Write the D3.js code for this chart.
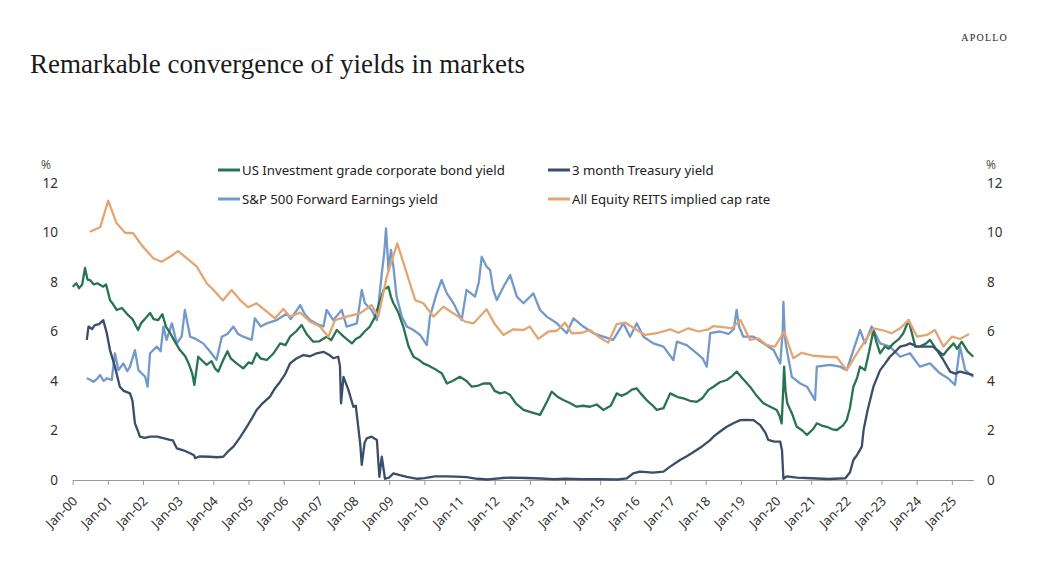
<!DOCTYPE html>
<html>
<head>
<meta charset="utf-8">
<script src="https://cdn.jsdelivr.net/npm/d3@7"></script>
<style>
  body { margin: 0; background: #fff; }
  svg { display: block; }
</style>
</head>
<body>
<div id="chart"></div>
<script>
// values: [decimal year, percent]
const igYield = [[2000.00,7.81],[2000.10,7.95],[2000.18,7.75],[2000.27,7.9],[2000.35,8.57],[2000.42,8.1],[2000.49,8.08],[2000.6,7.9],[2000.7,7.95],[2000.87,7.81],[2000.95,7.9],[2001.06,7.27],[2001.15,7.1],[2001.25,6.87],[2001.4,6.95],[2001.57,6.67],[2001.7,6.5],[2001.86,6.06],[2001.95,6.35],[2002.05,6.5],[2002.2,6.75],[2002.3,6.5],[2002.43,6.46],[2002.55,6.7],[2002.65,6.2],[2002.77,5.94],[2002.9,5.6],[2003.05,5.25],[2003.2,5.0],[2003.3,4.7],[2003.4,4.3],[2003.46,3.84],[2003.57,4.98],[2003.7,4.8],[2003.81,4.65],[2003.95,4.8],[2004.05,4.5],[2004.14,4.38],[2004.28,4.85],[2004.4,5.2],[2004.5,4.9],[2004.66,4.71],[2004.85,4.51],[2005.0,4.75],[2005.1,4.7],[2005.23,5.12],[2005.35,4.9],[2005.52,4.85],[2005.7,5.1],[2005.9,5.52],[2006.05,5.45],[2006.18,5.79],[2006.35,6.0],[2006.51,6.26],[2006.65,5.9],[2006.84,5.59],[2007.0,5.6],[2007.22,5.79],[2007.35,5.65],[2007.51,6.06],[2007.7,5.8],[2007.94,5.52],[2008.05,5.7],[2008.17,5.79],[2008.3,6.0],[2008.45,6.2],[2008.6,6.6],[2008.75,7.3],[2008.85,7.7],[2008.98,7.81],[2009.05,7.4],[2009.12,7.14],[2009.25,6.8],[2009.4,6.2],[2009.55,5.4],[2009.69,4.98],[2009.85,4.85],[2009.97,4.71],[2010.15,4.6],[2010.35,4.44],[2010.5,4.3],[2010.64,3.9],[2010.8,4.0],[2011.01,4.17],[2011.2,4.0],[2011.35,3.77],[2011.5,3.8],[2011.68,3.9],[2011.87,3.9],[2012.0,3.6],[2012.15,3.5],[2012.3,3.55],[2012.44,3.43],[2012.6,3.1],[2012.82,2.83],[2013.0,2.75],[2013.29,2.63],[2013.5,3.2],[2013.62,3.57],[2013.8,3.35],[2013.95,3.23],[2014.15,3.1],[2014.33,2.96],[2014.5,3.0],[2014.71,2.96],[2014.9,3.05],[2015.09,2.83],[2015.3,3.0],[2015.47,3.5],[2015.6,3.4],[2015.76,3.5],[2015.9,3.65],[2016.04,3.7],[2016.15,3.5],[2016.32,3.23],[2016.5,3.0],[2016.61,2.83],[2016.8,2.9],[2016.99,3.5],[2017.2,3.35],[2017.37,3.3],[2017.55,3.2],[2017.75,3.16],[2017.9,3.3],[2018.08,3.64],[2018.22,3.77],[2018.4,3.95],[2018.6,4.04],[2018.75,4.2],[2018.88,4.38],[2019.05,4.1],[2019.26,3.77],[2019.45,3.4],[2019.64,3.1],[2019.85,2.95],[2020.02,2.83],[2020.1,2.6],[2020.16,2.29],[2020.2,3.5],[2020.23,4.58],[2020.27,3.6],[2020.32,3.1],[2020.45,2.7],[2020.59,2.15],[2020.75,2.0],[2020.88,1.82],[2021.05,2.05],[2021.16,2.29],[2021.3,2.2],[2021.44,2.15],[2021.6,2.05],[2021.73,2.02],[2021.9,2.2],[2022.01,2.42],[2022.1,2.9],[2022.2,3.77],[2022.3,4.1],[2022.39,4.58],[2022.53,4.44],[2022.65,5.2],[2022.77,6.06],[2022.85,5.6],[2022.96,5.12],[2023.1,5.4],[2023.2,5.3],[2023.34,5.52],[2023.5,5.7],[2023.62,5.93],[2023.77,6.46],[2023.87,5.9],[2023.96,5.39],[2024.1,5.4],[2024.25,5.5],[2024.38,5.66],[2024.55,5.3],[2024.76,5.05],[2024.9,5.3],[2025.05,5.52],[2025.15,5.3],[2025.28,5.59],[2025.45,5.2],[2025.61,4.98]];

const tbillYield = [[2000.4,5.66],[2000.45,6.2],[2000.55,6.1],[2000.63,6.26],[2000.75,6.3],[2000.87,6.46],[2000.97,5.93],[2001.06,5.25],[2001.2,4.58],[2001.34,3.77],[2001.45,3.6],[2001.63,3.5],[2001.7,3.2],[2001.77,2.29],[2001.85,2.0],[2001.91,1.75],[2002.05,1.7],[2002.2,1.75],[2002.4,1.75],[2002.6,1.68],[2002.77,1.62],[2002.85,1.6],[2002.96,1.28],[2003.15,1.2],[2003.34,1.08],[2003.45,1.0],[2003.48,0.88],[2003.6,0.95],[2003.9,0.94],[2004.1,0.92],[2004.28,0.94],[2004.45,1.2],[2004.57,1.35],[2004.75,1.7],[2004.95,2.15],[2005.1,2.5],[2005.23,2.83],[2005.4,3.1],[2005.61,3.37],[2005.75,3.7],[2005.9,3.97],[2006.05,4.3],[2006.18,4.71],[2006.35,4.9],[2006.56,5.05],[2006.75,5.0],[2006.94,5.12],[2007.13,5.18],[2007.3,5.05],[2007.41,4.92],[2007.55,4.98],[2007.6,4.6],[2007.63,3.1],[2007.7,4.17],[2007.84,3.64],[2007.98,2.96],[2008.05,3.0],[2008.12,2.15],[2008.18,1.4],[2008.22,0.61],[2008.3,1.5],[2008.36,1.68],[2008.5,1.75],[2008.65,1.62],[2008.72,0.13],[2008.79,0.94],[2008.88,0.05],[2009.0,0.1],[2009.12,0.27],[2009.3,0.2],[2009.5,0.13],[2009.8,0.05],[2010.0,0.08],[2010.3,0.15],[2010.6,0.15],[2010.9,0.14],[2011.2,0.12],[2011.5,0.05],[2011.8,0.02],[2012.2,0.08],[2012.5,0.1],[2012.9,0.08],[2013.3,0.06],[2013.7,0.03],[2014.0,0.05],[2014.5,0.03],[2015.0,0.03],[2015.5,0.02],[2015.76,0.07],[2015.94,0.27],[2016.13,0.34],[2016.5,0.3],[2016.8,0.34],[2016.99,0.54],[2017.27,0.81],[2017.45,0.95],[2017.6,1.08],[2017.84,1.3],[2018.12,1.6],[2018.22,1.75],[2018.4,1.95],[2018.6,2.15],[2018.8,2.3],[2018.98,2.42],[2019.15,2.43],[2019.36,2.42],[2019.55,2.22],[2019.7,1.9],[2019.78,1.62],[2019.95,1.55],[2020.12,1.55],[2020.17,1.2],[2020.21,0.05],[2020.3,0.15],[2020.6,0.1],[2021.0,0.07],[2021.5,0.04],[2021.97,0.07],[2022.1,0.3],[2022.2,0.81],[2022.3,1.0],[2022.44,1.35],[2022.49,2.02],[2022.6,2.8],[2022.77,3.77],[2022.96,4.44],[2023.1,4.7],[2023.24,4.98],[2023.4,5.2],[2023.53,5.39],[2023.7,5.45],[2023.81,5.52],[2024.0,5.4],[2024.19,5.39],[2024.47,5.39],[2024.6,5.2],[2024.76,4.85],[2024.95,4.38],[2025.1,4.3],[2025.23,4.38],[2025.45,4.3],[2025.61,4.24]];

const spxEarningsYield = [[2000.4,4.11],[2000.5,4.05],[2000.59,3.97],[2000.7,4.1],[2000.78,4.24],[2000.88,4.0],[2000.97,4.11],[2001.11,4.04],[2001.2,5.12],[2001.3,4.44],[2001.44,4.71],[2001.55,4.4],[2001.63,4.58],[2001.77,5.25],[2001.87,4.44],[2002.06,4.17],[2002.13,3.77],[2002.2,5.12],[2002.39,5.39],[2002.5,5.2],[2002.58,6.2],[2002.67,5.66],[2002.82,6.33],[2002.96,5.52],[2003.1,5.8],[2003.19,6.87],[2003.34,5.79],[2003.5,5.7],[2003.71,5.52],[2003.9,5.2],[2004.09,4.85],[2004.24,5.79],[2004.4,5.9],[2004.57,6.2],[2004.7,5.9],[2004.85,5.79],[2005.09,5.66],[2005.18,6.53],[2005.35,6.2],[2005.52,6.33],[2005.8,6.46],[2006.09,6.73],[2006.2,6.5],[2006.47,7.07],[2006.6,6.7],[2006.75,6.46],[2006.95,6.3],[2007.13,6.2],[2007.22,6.87],[2007.41,6.46],[2007.65,6.87],[2007.79,6.2],[2008.08,6.33],[2008.22,7.68],[2008.31,7.14],[2008.5,6.87],[2008.65,6.46],[2008.79,8.35],[2008.86,9.2],[2008.91,10.17],[2008.98,8.48],[2009.05,9.3],[2009.12,8.62],[2009.21,7.41],[2009.36,6.6],[2009.5,6.2],[2009.69,6.06],[2009.88,5.86],[2010.07,5.45],[2010.16,6.6],[2010.35,7.54],[2010.49,8.08],[2010.64,7.54],[2010.83,7.14],[2011.06,6.46],[2011.2,7.68],[2011.44,7.41],[2011.55,8.0],[2011.63,9.02],[2011.77,8.62],[2011.87,8.48],[2011.96,7.68],[2012.06,7.27],[2012.25,7.81],[2012.44,8.28],[2012.63,7.41],[2012.82,7.14],[2013.1,7.54],[2013.29,6.87],[2013.48,6.6],[2013.77,6.33],[2014.05,5.93],[2014.24,6.53],[2014.52,6.2],[2014.81,5.93],[2015.09,5.79],[2015.37,5.66],[2015.66,6.33],[2015.85,5.79],[2016.04,6.33],[2016.23,5.79],[2016.51,5.52],[2016.8,5.39],[2017.08,4.85],[2017.18,5.59],[2017.46,5.45],[2017.75,5.12],[2017.92,4.9],[2018.03,4.58],[2018.13,5.93],[2018.4,6.0],[2018.65,5.9],[2018.8,6.1],[2018.88,6.87],[2018.95,6.2],[2019.07,5.79],[2019.36,5.79],[2019.64,5.52],[2019.93,5.25],[2020.12,4.71],[2020.19,6.0],[2020.21,7.2],[2020.25,5.8],[2020.29,5.39],[2020.45,4.17],[2020.69,3.9],[2020.88,3.77],[2021.11,3.23],[2021.16,4.58],[2021.54,4.65],[2021.82,4.58],[2022.01,4.44],[2022.2,5.25],[2022.39,6.06],[2022.53,5.52],[2022.72,6.2],[2022.96,5.52],[2023.24,5.39],[2023.53,4.98],[2023.81,5.12],[2024.09,4.58],[2024.38,4.71],[2024.66,4.31],[2024.9,4.1],[2025.09,3.84],[2025.23,5.39],[2025.38,4.44],[2025.61,4.17]];

const reitCapRate = [[2000.49,10.03],[2000.78,10.21],[2001.01,11.29],[2001.25,10.37],[2001.49,9.99],[2001.72,9.97],[2001.96,9.49],[2002.29,8.96],[2002.53,8.82],[2002.77,9.02],[2003.0,9.25],[2003.24,8.96],[2003.53,8.62],[2003.81,7.95],[2004.05,7.61],[2004.27,7.25],[2004.52,7.68],[2004.76,7.27],[2004.99,6.98],[2005.23,7.14],[2005.52,6.8],[2005.75,6.53],[2005.99,6.91],[2006.18,6.6],[2006.47,6.76],[2006.75,6.4],[2007.03,6.2],[2007.27,5.79],[2007.46,6.46],[2007.79,6.6],[2008.17,6.73],[2008.5,7.07],[2008.69,6.6],[2008.93,8.21],[2009.23,9.56],[2009.5,8.35],[2009.74,7.27],[2009.97,7.14],[2010.26,6.6],[2010.54,7.0],[2010.83,6.73],[2011.16,6.4],[2011.4,6.33],[2011.77,6.9],[2012.0,6.3],[2012.25,5.86],[2012.53,6.09],[2012.82,6.06],[2013.0,6.2],[2013.24,5.7],[2013.53,6.0],[2013.77,6.03],[2014.0,6.36],[2014.19,5.93],[2014.48,5.95],[2014.71,6.06],[2014.95,5.79],[2015.23,5.55],[2015.47,6.3],[2015.71,6.36],[2016.04,6.06],[2016.28,5.86],[2016.61,5.93],[2016.99,6.09],[2017.22,5.95],[2017.51,6.13],[2017.79,6.0],[2018.08,6.09],[2018.22,6.22],[2018.55,6.17],[2018.74,6.13],[2018.99,6.46],[2019.26,5.66],[2019.5,5.72],[2019.74,5.45],[2019.97,5.39],[2020.23,6.0],[2020.49,4.92],[2020.73,5.14],[2021.06,5.02],[2021.44,4.98],[2021.73,4.96],[2022.01,4.44],[2022.3,5.12],[2022.58,5.72],[2022.77,6.13],[2023.01,6.06],[2023.29,5.93],[2023.53,6.13],[2023.77,6.46],[2024.01,5.79],[2024.29,5.86],[2024.52,6.06],[2024.76,5.39],[2025.0,5.79],[2025.23,5.7],[2025.49,5.9]];

const yTicks = [0, 2, 4, 6, 8, 10, 12];
const xTickYears = d3.range(2000, 2026);

const series = [
  { name: "S&P 500 Forward Earnings yield", values: spxEarningsYield, color: "#7199cb" },
  { name: "US Investment grade corporate bond yield", values: igYield, color: "#287452" },
  { name: "3 month Treasury yield", values: tbillYield, color: "#3a4d6a" },
  { name: "All Equity REITS implied cap rate", values: reitCapRate, color: "#e3a673" }
];

function main() {
  let width = 1038;
  let height = 562;

  let svg = d3.select("#chart").append("svg")
    .attr("width", width)
    .attr("height", height);

  let x = d3.scaleLinear().domain([2000, 2025.63]).range([72.7, 974]);
  let y = d3.scaleLinear().domain([0, 12]).range([480, 183]);

  // header
  svg.append("text")
    .attr("x", 1008).attr("y", 41)
    .attr("text-anchor", "end")
    .attr("font-family", "Liberation Serif, serif")
    .attr("font-size", 10)
    .attr("letter-spacing", 1.2)
    .attr("fill", "#222")
    .text("APOLLO");

  svg.append("text")
    .attr("x", 30).attr("y", 73)
    .attr("font-family", "Liberation Serif, serif")
    .attr("font-size", 27)
    .attr("textLength", 495)
    .attr("fill", "#1a1a1a")
    .text("Remarkable convergence of yields in markets");

  const tickFont = "Noto Sans, sans-serif";

  // y labels, both sides
  svg.append("g").selectAll("text")
    .data(yTicks).enter().append("text")
    .attr("x", 58).attr("y", d => y(d))
    .attr("dy", "0.35em")
    .attr("text-anchor", "end")
    .attr("font-family", tickFont).attr("font-size", 13.5)
    .attr("fill", "#333")
    .text(d => d);

  svg.append("g").selectAll("text")
    .data(yTicks).enter().append("text")
    .attr("x", 987).attr("y", d => y(d))
    .attr("dy", "0.35em")
    .attr("font-family", tickFont).attr("font-size", 13.5)
    .attr("fill", "#333")
    .text(d => d);

  svg.append("text").attr("x", 46).attr("y", 165).attr("dy", "0.35em")
    .attr("text-anchor", "middle")
    .attr("font-family", tickFont).attr("font-size", 12).attr("fill", "#555")
    .text("%");
  svg.append("text").attr("x", 991).attr("y", 165).attr("dy", "0.35em")
    .attr("text-anchor", "middle")
    .attr("font-family", tickFont).attr("font-size", 12).attr("fill", "#555")
    .text("%");

  // x axis
  let xAxis = d3.axisBottom(x)
    .tickValues(xTickYears)
    .tickSize(5)
    .tickFormat(d => "Jan-" + String(d % 100).padStart(2, "0"));

  let gx = svg.append("g")
    .attr("transform", "translate(0,480)")
    .call(xAxis);
  gx.select(".domain").attr("stroke", "#999").attr("d", "M72.7,0.5H974");
  gx.selectAll(".tick line").attr("stroke", "#999");
  gx.selectAll(".tick text")
    .attr("font-family", tickFont)
    .attr("font-size", 13)
    .attr("fill", "#333")
    .attr("text-anchor", "end")
    .attr("transform", "translate(5,22) rotate(-45)")
    .attr("x", 0).attr("y", 0).attr("dy", 0);

  // lines
  let line = d3.line()
    .x(d => x(d[0]))
    .y(d => y(d[1]));

  svg.append("g").selectAll("path")
    .data(series).enter().append("path")
    .attr("d", d => line(d.values))
    .attr("fill", "none")
    .attr("stroke", d => d.color)
    .attr("stroke-width", 2.3)
    .attr("stroke-linejoin", "round");

  // legend
  const legendOrder = [series[1], series[2], series[0], series[3]];
  let legend = svg.append("g").selectAll("g")
    .data(legendOrder).enter().append("g")
    .attr("transform", (d, i) => "translate(" + (i % 2 === 0 ? 218 : 548) + "," + (i < 2 ? 170 : 199) + ")");
  legend.append("line")
    .attr("x1", 0).attr("x2", 22).attr("y1", 0).attr("y2", 0)
    .attr("stroke", d => d.color).attr("stroke-width", 3);
  legend.append("text")
    .attr("x", 24).attr("dy", "0.35em")
    .attr("font-family", tickFont).attr("font-size", 13.2)
    .attr("fill", "#222")
    .text(d => d.name);
}

main();
</script>
</body>
</html>
